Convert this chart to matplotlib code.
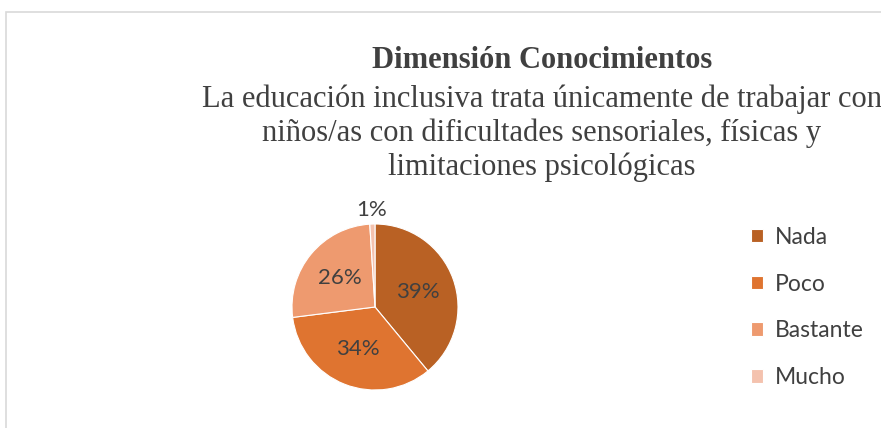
import numpy as np
import matplotlib.pyplot as plt
from matplotlib.patches import Rectangle

categories = ['Nada', 'Poco', 'Bastante', 'Mucho']
values = [39, 34, 26, 1]
colors = ['#B96124', '#DF7430', '#EE9A6F', '#F4C2AE']

title_bold = 'Dimensión Conocimientos'
title_lines = ['La educación inclusiva trata únicamente de trabajar con',
               'niños/as con dificultades sensoriales, físicas y',
               'limitaciones psicológicas']

W, H = 881, 428
fig = plt.figure(figsize=(W / 100, H / 100), dpi=100)

# chart border (cut off at right and bottom like the screenshot)
fig.patches.append(Rectangle((6 / W, -0.1), 1.2, (H - 12) / H + 0.1,
                             transform=fig.transFigure, fill=False,
                             edgecolor='#d9d9d9', lw=1.2))

# titles
serif = 'Liberation Serif'
fig.text(542 / W, 1 - 60 / H, title_bold, ha='center', va='center',
         family=serif, weight='bold', fontsize=22, color='#404040')
for i, line in enumerate(title_lines):
    fig.text(542 / W, 1 - (99 + i * 34) / H, line, ha='center', va='center',
             family=serif, fontsize=22, color='#404040')

# pie
cx, cy, r = 375, 307, 83
ax = fig.add_axes([(cx - r) / W, (H - cy - r) / H, 2 * r / W, 2 * r / H])
wedges, _, autotexts = ax.pie(values, colors=colors, startangle=90, counterclock=False,
                              autopct='%1.0f%%', pctdistance=0.55,
                              wedgeprops=dict(edgecolor='white', linewidth=0.8),
                              textprops=dict(family='Lato', fontsize=16, color='#404040'))
ax.set_xlim(-1, 1)
ax.set_ylim(-1, 1)

# small slice label goes outside
w = wedges[-1]
ang = np.deg2rad((w.theta1 + w.theta2) / 2)
autotexts[-1].set_position((1.17 * np.cos(ang), 1.17 * np.sin(ang)))

# legend
leg = fig.legend(wedges, categories, loc='upper left', bbox_to_anchor=(730 / W, 1 - 206 / H),
                 frameon=False, prop=dict(family='Lato', size=16.5), labelcolor='#404040',
                 handlelength=0.55, handleheight=0.55, handletextpad=0.5, labelspacing=1.13)

fig.savefig('out.png', dpi=100)
